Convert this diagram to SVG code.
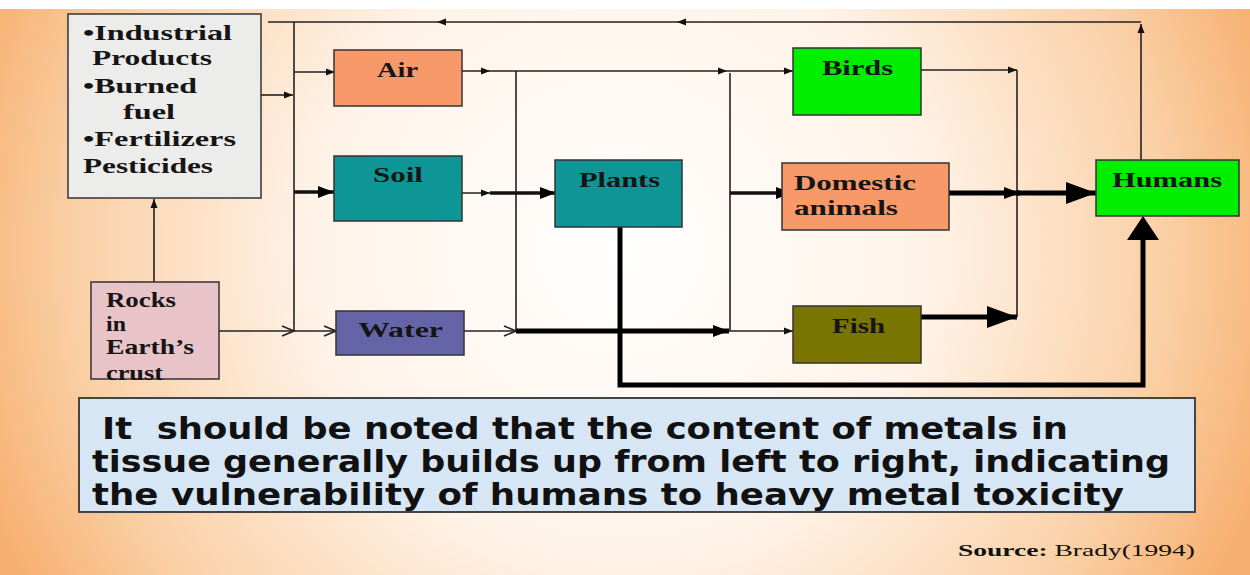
<svg xmlns="http://www.w3.org/2000/svg" width="1250" height="575" viewBox="0 0 1250 575">
<defs>
<radialGradient id="bg" gradientUnits="userSpaceOnUse" cx="620" cy="250" r="680">
<stop offset="0" stop-color="#ffffff"/>
<stop offset="0.45" stop-color="#fff3e8"/>
<stop offset="0.8" stop-color="#fad0a6"/>
<stop offset="1" stop-color="#f7b070"/>
</radialGradient>
<marker id="sm" markerUnits="userSpaceOnUse" markerWidth="10" markerHeight="10" refX="9" refY="5" orient="auto" viewBox="0 0 10 10"><path d="M0,1.5 L9,5 L0,8.5 Z" fill="#111"/></marker>
<marker id="op" markerUnits="userSpaceOnUse" markerWidth="14" markerHeight="14" refX="13" refY="7" orient="auto" viewBox="0 0 14 14"><path d="M1,2 L13,7 L1,12" fill="none" stroke="#222" stroke-width="1.6"/></marker>
<marker id="md" markerUnits="userSpaceOnUse" markerWidth="16" markerHeight="14" refX="16" refY="7" orient="auto" viewBox="0 0 16 14"><path d="M0,1 L16,7 L0,13 Z" fill="#000"/></marker>
<marker id="lg" markerUnits="userSpaceOnUse" markerWidth="30" markerHeight="24" refX="30" refY="12" orient="auto" viewBox="0 0 30 24"><path d="M0,1 L30,12 L0,23 Z" fill="#000"/></marker>
</defs>
<style>
.box{stroke:#333;stroke-width:1.5}
.lbl{font-family:"Liberation Serif","Times New Roman",serif;font-weight:bold;font-size:21px;fill:#151515}
.note{font-family:"DejaVu Sans","Liberation Sans",sans-serif;font-weight:bold;font-size:31px;fill:#111;white-space:pre}
.thin{fill:none;stroke:#222;stroke-width:1.6}
.thk{fill:none;stroke:#000;stroke-width:5}
.mid{fill:none;stroke:#111;stroke-width:3.5}
</style>
<rect width="1250" height="575" fill="url(#bg)"/>
<rect width="1250" height="9" fill="#ffffff"/>

<g id="connectors">
<path class="thin" d="M1141,160 V24" marker-end="url(#sm)"/>
<path class="thin" d="M1141,22 H677" marker-end="url(#sm)"/>
<path class="thin" d="M677,22 H437" marker-end="url(#sm)" stroke-width="2.2"/>
<path class="thin" d="M437,22 H268" stroke-width="2.2"/>
<path class="thin" d="M154,282 V199" marker-end="url(#sm)"/>
<path class="thin" d="M261,95 H293" marker-end="url(#sm)"/>
<path class="thin" d="M294,22 V331"/>
<path class="thin" d="M294,72 H335" marker-end="url(#sm)"/>
<path class="mid" d="M294,192 H334" marker-end="url(#md)"/>
<path class="thin" d="M219,331 H294" marker-end="url(#op)"/>
<path class="thin" d="M294,331 H336" marker-end="url(#op)"/>
<path class="thin" d="M428,71 H490" marker-end="url(#sm)"/>
<path class="thin" d="M490,71 H727" marker-end="url(#sm)"/>
<path class="thin" d="M727,71 H793" marker-end="url(#sm)"/>
<path class="thin" d="M516,71 V331"/>
<path class="thin" d="M730,73 V331"/>
<path class="thin" d="M430,193 H490" marker-end="url(#sm)"/>
<path class="mid" d="M490,193 H556" marker-end="url(#md)"/>
<path class="mid" d="M730,193 H792" marker-end="url(#md)" stroke-width="4"/>
<path class="thk" d="M620,227 V385 H1143 V240" stroke-width="6"/>
<path d="M1143,216 L1127,240 L1159,240 Z" fill="#000"/>
<path class="thin" d="M464,331 H516" marker-end="url(#op)"/>
<path class="thk" d="M516,331 H729" marker-end="url(#md)"/>
<path class="thin" d="M729,331 H793" marker-end="url(#sm)"/>
<path class="thin" d="M921,70 H1017" marker-end="url(#sm)"/>
<path class="thin" d="M1017,70 V317"/>
<path class="thk" d="M949,193 H1020" marker-end="url(#md)"/>
<path class="thk" d="M1017,193 H1096" marker-end="url(#lg)"/>
<path class="thk" d="M921,317 H1017" marker-end="url(#lg)"/>
</g>

<g id="industrial">
<rect class="box" x="68" y="14" width="193" height="184" fill="#ececea"/>
<text class="lbl" x="83" y="40" textLength="149" lengthAdjust="spacingAndGlyphs">•Industrial</text>
<text class="lbl" x="92" y="65" textLength="120" lengthAdjust="spacingAndGlyphs">Products</text>
<text class="lbl" x="83" y="93" textLength="114" lengthAdjust="spacingAndGlyphs">•Burned</text>
<text class="lbl" x="123" y="119" textLength="52" lengthAdjust="spacingAndGlyphs">fuel</text>
<text class="lbl" x="83" y="146" textLength="153" lengthAdjust="spacingAndGlyphs">•Fertilizers</text>
<text class="lbl" x="83" y="173" textLength="130" lengthAdjust="spacingAndGlyphs">Pesticides</text>
</g>

<g id="rocks">
<rect class="box" x="91" y="282" width="128" height="97" fill="#e8c3c8"/>
<text class="lbl" x="106" y="307" font-size="19" textLength="70" lengthAdjust="spacingAndGlyphs">Rocks</text>
<text class="lbl" x="106" y="331" font-size="19" textLength="20" lengthAdjust="spacingAndGlyphs">in</text>
<text class="lbl" x="106" y="354" font-size="19" textLength="88" lengthAdjust="spacingAndGlyphs">Earth’s</text>
<text class="lbl" x="106" y="380" font-size="19" textLength="57" lengthAdjust="spacingAndGlyphs">crust</text>
</g>

<g id="air">
<rect class="box" x="334" y="50" width="128" height="56" fill="#f8996a"/>
<text class="lbl" x="377" y="77" fill="#2a1208" textLength="41" lengthAdjust="spacingAndGlyphs">Air</text>
</g>

<g id="soil">
<rect class="box" x="334" y="156" width="128" height="65" fill="#0e9696"/>
<text class="lbl" x="373" y="182" textLength="50" lengthAdjust="spacingAndGlyphs">Soil</text>
</g>

<g id="water">
<rect class="box" x="336" y="311" width="128" height="44" fill="#6464a6"/>
<text class="lbl" x="358" y="337" fill="#ffffff" textLength="85" lengthAdjust="spacingAndGlyphs">Water</text>
</g>

<g id="plants">
<rect class="box" x="555" y="160" width="127" height="67" fill="#0e9696"/>
<text class="lbl" x="579" y="187" textLength="81" lengthAdjust="spacingAndGlyphs">Plants</text>
</g>

<g id="birds">
<rect class="box" x="793" y="48" width="128" height="67" fill="#00ee00"/>
<text class="lbl" x="822" y="75" fill="#0a2a0a" textLength="71" lengthAdjust="spacingAndGlyphs">Birds</text>
</g>

<g id="domestic">
<rect class="box" x="782" y="163" width="167" height="67" fill="#f8996a"/>
<text class="lbl" x="794" y="190" fill="#2a1208" textLength="122" lengthAdjust="spacingAndGlyphs">Domestic</text>
<text class="lbl" x="794" y="215" fill="#2a1208" textLength="104" lengthAdjust="spacingAndGlyphs">animals</text>
</g>

<g id="fish">
<rect class="box" x="793" y="306" width="128" height="57" fill="#7a7400"/>
<text class="lbl" x="832" y="333" textLength="53" lengthAdjust="spacingAndGlyphs">Fish</text>
</g>

<g id="humans">
<rect class="box" x="1096" y="160" width="143" height="56" fill="#00ee00"/>
<text class="lbl" x="1112" y="187" fill="#0a2a0a" textLength="110" lengthAdjust="spacingAndGlyphs">Humans</text>
</g>

<g id="note">
<rect x="79" y="398" width="1116" height="114" fill="#d6e6f4" stroke="#444" stroke-width="2"/>
<text class="note" x="102" y="439" textLength="966" lengthAdjust="spacingAndGlyphs">It  should be noted that the content of metals in</text>
<text class="note" x="92" y="472" textLength="1078" lengthAdjust="spacingAndGlyphs">tissue generally builds up from left to right, indicating</text>
<text class="note" x="92" y="505" textLength="1032" lengthAdjust="spacingAndGlyphs">the vulnerability of humans to heavy metal toxicity</text>
</g>

<text x="958" y="556" font-family="Liberation Serif, Times New Roman, serif" font-size="17" fill="#111" textLength="237" lengthAdjust="spacingAndGlyphs"><tspan font-weight="bold">Source:</tspan> Brady(1994)</text>
</svg>
